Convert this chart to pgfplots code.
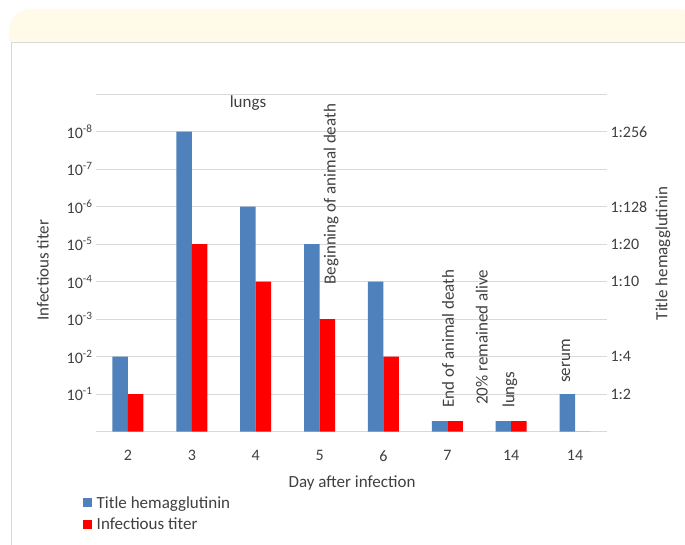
\documentclass[border=0pt]{standalone}
\usepackage{pgfplots}
\pgfplotsset{compat=1.18}
\usepackage{fontspec}
\setmainfont{Carlito}

\definecolor{hablue}{HTML}{4F81BD}
\definecolor{itred}{HTML}{FF0000}
\definecolor{gridgrey}{HTML}{D9D9D9}
\definecolor{txt}{HTML}{404040}
\definecolor{cream}{HTML}{FFFBE8}
\definecolor{frameline}{HTML}{DDDAC4}

\newcommand{\lbl}{\fontsize{17}{20}\selectfont}
\newcommand{\tck}{\fontsize{16}{19}\selectfont}

\pgfplotsset{
  chartbox/.style={
    at={(96pt,113.3pt)}, anchor=south west,
    scale only axis, width=511pt, height=337.5pt,
    xmin=-0.5, xmax=7.5, ymin=0, ymax=9,
    major tick length=0pt,
    tick label style={font=\tck, text=txt},
    clip=false,
  },
}

\begin{document}
\begin{tikzpicture}
\useasboundingbox (0pt,0pt) rectangle (685pt,545pt);
\fill[white] (0pt,0pt) rectangle (685pt,545pt);
% header strip and panel frame
\begin{scope}
  \clip (0pt,0pt) rectangle (685pt,545pt);
  \fill[cream] (9pt,503pt) -- (9pt,514pt) arc[start angle=180,end angle=90,radius=22pt]
    -- (678pt,536pt) arc[start angle=90,end angle=0,radius=22pt] -- (700pt,503pt) -- cycle;
\end{scope}
\draw[frameline] (11pt,0pt) -- (11pt,503pt);
\draw[gridgrey] (11pt,503pt) -- (685pt,503pt);

\begin{axis}[chartbox,
  ybar=0pt, bar width=15.5pt,
  xtick={0,...,7}, xticklabels={2,3,4,5,6,7,14,14},
  xticklabel style={yshift=-15pt},
  ytick={0,...,9},
  yticklabels={,10\textsuperscript{-1},10\textsuperscript{-2},10\textsuperscript{-3},10\textsuperscript{-4},10\textsuperscript{-5},10\textsuperscript{-6},10\textsuperscript{-7},10\textsuperscript{-8},},
  ymajorgrids, grid style={gridgrey, line width=0.8pt},
  axis x line*=bottom, axis y line*=left,
  x axis line style={gridgrey, line width=0.8pt},
  y axis line style={draw=none},
  xlabel={Day after infection},
  ylabel={Infectious titer},
  every axis x label/.style={at={(axis description cs:0.501,-0.152)}, anchor=center, font=\lbl, text=txt},
  every axis y label/.style={at={(axis description cs:-0.104,0.479)}, anchor=center, rotate=90, font=\lbl, text=txt},
  legend style={at={(axis description cs:-0.0254,-0.185)}, anchor=north west,
    draw=none, fill=none, font=\lbl, text=txt, inner sep=0pt, row sep=4.5pt,
    nodes={inner xsep=4.5pt}},
  legend cell align=left,
  legend image code/.code={\fill[#1] (0pt,-4.5pt) rectangle (9pt,4.5pt);},
]
\addplot[fill=hablue, draw=none] coordinates {
  (0,2) (1,8) (2,6) (3,5) (4,4) (5,0.28) (6,0.28) (7,1)
};
\addplot[fill=itred, draw=none] coordinates {
  (0,1) (1,5) (2,4) (3,3) (4,2) (5,0.28) (6,0.28) (7,0)
};
\legend{Title hemagglutinin, Infectious titer}

\node[font=\lbl, text=txt] at (axis cs:1.88,8.77) {lungs};
\node[font=\lbl, text=txt, rotate=90, anchor=west, inner sep=0pt] at (axis cs:3.18,3.92) {Beginning of animal death};
\node[font=\lbl, text=txt, rotate=90, anchor=west, inner sep=0pt] at (axis cs:5.01,0.63) {End of animal death};
\node[font=\lbl, text=txt, rotate=90, anchor=west, inner sep=0pt] at (axis cs:5.54,0.71) {20\% remained alive};
\node[font=\lbl, text=txt, rotate=90, anchor=west, inner sep=0pt] at (axis cs:5.98,0.63) {lungs};
\node[font=\lbl, text=txt, rotate=90, anchor=west, inner sep=0pt] at (axis cs:6.86,1.30) {serum};
\end{axis}

\begin{axis}[chartbox,
  hide x axis,
  axis y line*=right,
  y axis line style={draw=none},
  ytick={1,2,4,5,6,8},
  yticklabels={1:2,1:4,1:10,1:20,1:128,1:256},
  ylabel={Title hemagglutinin},
  every axis y label/.style={at={(axis description cs:1.1096,0.528)}, anchor=center, rotate=90, font=\lbl, text=txt},
]
\end{axis}
\end{tikzpicture}
\end{document}
